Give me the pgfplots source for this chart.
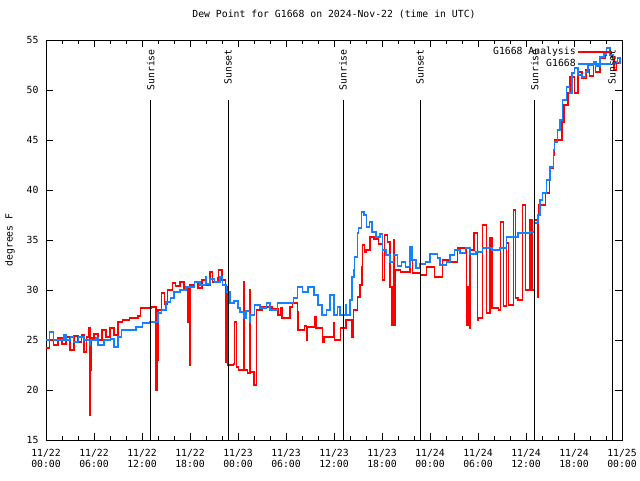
\documentclass[border=0pt]{standalone}
\usepackage{pgfplots}
\pgfplotsset{compat=1.18}
\usepackage{fontspec}
\setmainfont{DejaVu Sans Mono}
\definecolor{obsblue}{RGB}{20,130,255}
\begin{document}
\fontsize{9.8}{11}\selectfont
\begin{tikzpicture}
\begin{axis}[
    scale only axis,
    width=576pt, height=400pt,
    xmin=0, xmax=72, ymin=15, ymax=55,
    xtick={0,6,...,72},
    xticklabels={{11/22\\00:00},{11/22\\06:00},{11/22\\12:00},{11/22\\18:00},
                 {11/23\\00:00},{11/23\\06:00},{11/23\\12:00},{11/23\\18:00},
                 {11/24\\00:00},{11/24\\06:00},{11/24\\12:00},{11/24\\18:00},
                 {11/25\\00:00}},
    xticklabel style={align=center, yshift=-6pt},
    yticklabel style={xshift=-4pt},
    minor x tick num=2,
    ytick={15,20,...,55},
    tick align=inside,
    major tick length=7pt, minor tick length=4pt,
    tick style={black, line width=0.6pt},
    axis line style={line width=0.8pt},
    /pgf/number format/assume math mode=true,
    title={Dew Point for G1668 on 2024-Nov-22 (time in UTC)},
    title style={at={(axis description cs:0.5,1)}, anchor=center, yshift=20pt},
    ylabel={degrees F},
    ylabel style={at={(axis description cs:-0.0625,0.5)}, anchor=center},
    legend style={at={(axis description cs:1,1)}, anchor=north east,
        xshift=-8pt, yshift=-3pt, draw=none, fill=none,
        row sep=-1pt, font=\fontsize{9.8}{11}\selectfont},
    legend plot pos=right,
    legend cell align=right,
    legend image code/.code={\fill[#1] (0pt,-0.45pt) rectangle (32pt,0.45pt);},
]
% G1668 Analysis
\addplot[const plot, color=red, line width=1.1pt] coordinates {
(0,24.2) (0.4,25.0) (0.9,24.5) (1.5,25.2) (2.0,24.6) (2.5,25.3) (3.0,24.0)
(3.5,25.4) (4.0,24.8) (4.4,25.5) (4.75,23.8) (5.1,25.3) (5.3,26.2) (5.5,17.5)
(5.6,22.0) (5.7,25.2) (6.0,25.6) (6.5,25.0) (7.0,26.0) (7.5,25.3) (8.0,26.2)
(8.5,25.5) (9.0,26.8) (9.6,27.0) (10.4,27.2) (11.5,27.4) (11.8,28.2) (13.2,28.3)
(13.75,20.0) (13.9,23.0) (14.0,28.0) (14.4,29.7) (14.8,28.6) (15.2,30.0)
(15.8,30.7) (16.2,30.4) (16.75,30.8) (17.25,30.2) (17.75,26.8) (17.9,22.5)
(18.0,30.5) (18.6,30.8) (19.0,30.2) (19.5,31.0) (20.0,30.5) (20.5,31.8)
(20.8,30.8) (21.5,31.2) (21.6,32.0) (22.0,31.0) (22.4,22.8) (22.6,30.3)
(22.75,22.5) (23.4,22.6) (23.6,26.8) (23.8,22.3) (24.1,22.0) (24.7,30.8)
(24.8,22.0) (25.2,21.7) (25.5,30.0) (25.6,21.8) (26.0,20.5) (26.3,28.0)
(27.0,28.3) (28.25,28.1) (29.0,27.5) (29.3,28.2) (29.5,27.2) (30.5,28.3)
(30.8,28.7) (31.4,27.8) (31.5,26.0) (32.3,26.4) (32.6,25.0) (32.7,26.3)
(33.6,27.3) (33.75,26.2) (34.6,24.8) (34.75,25.3) (35.9,26.7) (36.1,25.0)
(36.8,26.2) (37.5,27.0) (38.25,25.3) (38.4,28.0) (38.9,29.3) (39.25,30.5)
(39.5,32.3) (39.6,34.5) (39.8,33.8) (40.0,34.0) (40.5,35.3) (41.0,35.1)
(41.6,34.6) (42.1,31.0) (42.3,35.5) (42.7,34.8) (43.0,30.3) (43.25,26.5)
(43.4,35.0) (43.6,26.5) (43.7,32.0) (44.3,31.8) (45.5,33.7) (45.8,31.7)
(46.8,31.5) (47.6,32.3) (48.6,31.3) (49.6,33.0) (50.5,32.8) (51.4,34.2)
(52.6,26.5) (52.75,30.3) (52.9,26.2) (53.0,34.0) (53.5,35.7) (53.9,27.0)
(54.0,27.2) (54.6,36.5) (55.1,27.7) (55.5,35.2) (55.75,28.2) (56.6,28.0)
(56.8,36.8) (57.2,28.4) (57.6,34.7) (57.8,28.5) (58.4,38.0) (58.7,29.2)
(59.0,29.0) (59.6,38.5) (59.9,30.0) (60.5,37.0) (60.75,30.0) (61.1,37.0)
(61.4,29.3) (61.6,38.5) (62.1,38.5) (62.4,39.7) (62.9,41.7) (63.1,42.2)
(63.4,43.5) (63.6,45.0) (64.5,46.8) (64.75,48.5) (65.25,49.7) (65.5,51.3)
(66.1,49.7) (66.5,51.8) (67.0,51.2) (67.5,52.0) (67.9,51.4) (68.4,52.7)
(68.7,51.8) (69.25,53.2) (69.9,53.5) (70.1,53.8) (70.7,53.3) (71.0,52.0)
(71.3,52.7) (71.75,53.3)
};
\addlegendentry{G1668 Analysis}
% G1668 observations
\addplot[const plot, color=obsblue, line width=1.1pt] coordinates {
(0,25.0) (0.4,25.8) (0.9,25.0) (2.25,25.5) (2.5,25.0) (3.1,25.3) (3.4,24.8)
(4.1,25.3) (4.75,25.0) (5.4,24.5) (5.5,25.0) (6.25,25.2) (6.5,24.5) (7.25,25.0)
(8.1,25.1) (8.5,24.3) (9.0,25.3) (9.4,26.0) (11.25,26.3) (12.1,26.7)
(12.9,26.8) (14.0,27.7) (14.4,28.0) (15.0,28.8) (15.6,29.2) (16.0,29.8)
(16.75,30.0) (17.5,30.3) (18.6,30.8) (19.25,30.5) (19.9,31.3) (20.1,30.6)
(20.5,31.1) (21.1,30.8) (21.75,31.3) (22.1,30.5) (22.6,29.8) (23.0,28.7)
(23.5,28.9) (24.0,28.2) (24.25,27.8) (24.75,27.2) (25.0,27.9) (25.4,26.8)
(25.6,27.5) (26.1,28.5) (26.75,28.2) (27.6,28.7) (28.0,28.0) (28.9,28.7)
(30.9,29.2) (31.4,30.3) (32.1,29.8) (32.75,30.3) (33.5,29.5) (34.0,28.5)
(34.5,27.5) (35.1,28.0) (35.5,29.5) (36.0,27.5) (36.4,28.3) (36.75,27.5)
(37.4,28.5) (37.6,27.5) (38.0,29.0) (38.25,31.3) (38.5,32.0) (38.6,33.3)
(38.9,35.7) (39.1,36.2) (39.4,37.8) (39.75,37.5) (40.1,36.3) (40.4,36.8)
(40.75,35.8) (41.25,35.3) (41.75,35.6) (42.1,34.0) (42.5,33.5) (43.0,32.8)
(43.4,33.5) (43.9,32.4) (44.4,32.8) (44.9,32.3) (45.5,34.3) (45.75,33.0)
(46.25,32.2) (46.75,32.6) (47.4,32.8) (48.0,33.6) (48.9,33.2) (49.25,32.5)
(50.1,32.8) (50.5,33.5) (51.1,34.0) (51.75,33.7) (52.4,34.2) (53.0,33.6)
(53.75,33.8) (54.6,34.2) (55.75,34.0) (56.75,34.2) (57.6,35.3) (59.0,35.7)
(60.5,35.8) (61.1,36.7) (61.5,37.5) (61.75,39.0) (62.1,39.7) (62.6,41.0)
(63.0,42.3) (63.4,44.0) (63.6,44.8) (63.9,46.0) (64.25,47.0) (64.6,49.0)
(65.1,50.3) (65.4,49.7) (65.75,51.7) (66.1,52.2) (66.5,51.5) (67.0,51.3)
(67.4,51.8) (67.75,52.5) (68.4,52.8) (68.75,52.4) (69.25,53.3) (69.75,53.6)
(70.1,54.2) (70.5,53.5) (70.9,52.8) (71.4,53.2) (71.75,52.6)
};
\addlegendentry{G1668}
% sunrise / sunset markers
\foreach \t/\lab in {13.1/Sunrise, 22.75/Sunset, 37.13/Sunrise, 46.75/Sunset, 61.1/Sunrise, 70.75/Sunset}{
  \edef\temp{\noexpand\draw[black, line width=1pt] (axis cs:\t,49.0) -- (axis cs:\t,15);
    \noexpand\node[rotate=90, anchor=east, inner sep=0pt, xshift=1pt] at (axis cs:\t,54.0) {\lab};}
  \temp
}
\end{axis}
\pgfresetboundingbox
\path (current axis.south west) ++(-46pt,-40pt) coordinate (bbA);
\path (current axis.north east) ++(18pt,40pt) coordinate (bbB);
\path[use as bounding box] (bbA) rectangle (bbB);
\end{tikzpicture}
\end{document}
